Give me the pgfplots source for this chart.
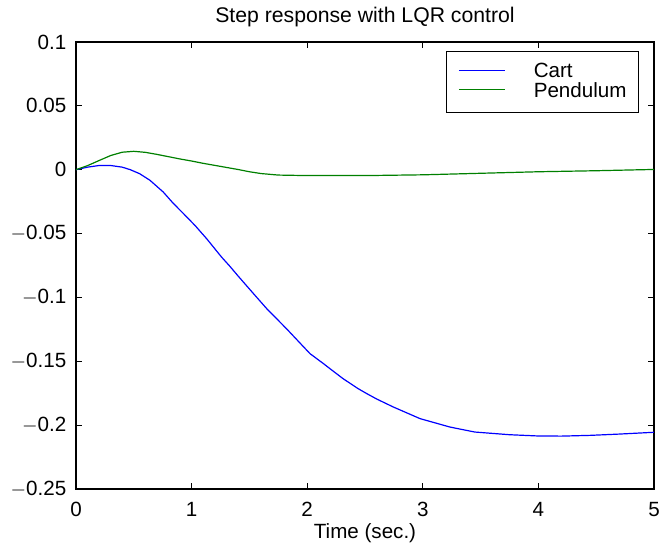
\documentclass[border=0pt]{standalone}
\usepackage{fontspec}
\setmainfont{Liberation Sans}
\usepackage{pgfplots}
\pgfplotsset{compat=1.18}
\definecolor{mgreen}{RGB}{0,128,0}
\newcommand{\legline}[1]{\textcolor{#1}{\rule[3.4pt]{23pt}{0.6pt}}\hspace{14.5pt}}
\begin{document}
\begin{tikzpicture}
\path[use as bounding box] (-38pt,-27.65pt) rectangle (291.5pt,244.5pt);
\begin{axis}[
  at={(0,0)}, anchor=south west,
  scale only axis, width=289pt, height=223.5pt,
  xmin=0, xmax=5, ymin=-0.25, ymax=0.1,
  xtick={0,1,2,3,4,5},
  ytick={-0.25,-0.2,-0.15,-0.1,-0.05,0,0.05,0.1},
  yticklabels={$-$0.25,$-$0.2,$-$0.15,$-$0.1,$-$0.05,0,0.05,0.1},
  scaled y ticks=false,
  tick align=inside,
  major tick length=2.8pt,
  axis line style={line width=0.6pt},
  tick style={black, line width=0.6pt},
  /pgf/number format/assume math mode=true,
  tick label style={font=\fontsize{10.3}{12}\selectfont},
  xticklabel style={yshift=-2.9pt},
  yticklabel style={xshift=-1.3pt},
  title={Step response with LQR control},
  title style={at={(axis description cs:0.5,1)}, anchor=base, yshift=3.6pt, font=\fontsize{10.6}{12}\selectfont, inner sep=0pt},
  xlabel={Time (sec.)},
  xlabel style={at={(axis description cs:0.5,0)}, anchor=base, yshift=-25pt, font=\fontsize{10.3}{12}\selectfont, inner sep=0pt},
  legend cell align=left,
  legend image code/.code={},
  legend style={at={(0.974,0.980)}, anchor=north east,
    inner xsep=4pt, inner ysep=4pt, column sep=0pt, row sep=-3.2pt,
    font=\fontsize{10.3}{12}\selectfont},
]
\addplot[color=blue, line width=0.6pt] coordinates {
(0,0) (0.1,0.002) (0.2,0.0033) (0.3,0.0033) (0.4,0.002) (0.47,0.0)
(0.55,-0.0031) (0.64,-0.0083) (0.755,-0.0175) (0.84,-0.0262) (0.93,-0.0344)
(1.03,-0.0437) (1.13,-0.054) (1.26,-0.0685) (1.33,-0.0755) (1.4,-0.083)
(1.535,-0.097) (1.65,-0.1088) (1.82,-0.1244) (2.024,-0.144) (2.14,-0.1518)
(2.2,-0.156) (2.31,-0.1636) (2.44,-0.1714) (2.515,-0.1753) (2.6,-0.1795)
(2.745,-0.1858) (2.976,-0.1949) (3.235,-0.2015) (3.45,-0.2054) (3.75,-0.2075)
(4.0,-0.2085) (4.2,-0.2086) (4.45,-0.2080) (4.7,-0.2070) (5.0,-0.2056)
};
\addlegendentry{\legline{blue}Cart}
\addplot[color=mgreen, line width=0.6pt] coordinates {
(0,0) (0.1,0.0032) (0.2,0.0072) (0.3,0.0111) (0.4,0.0137) (0.5,0.0144)
(0.6,0.0136) (0.7,0.0120) (0.8,0.0102) (0.9,0.0084) (1.0,0.0068)
(1.1,0.0050) (1.2,0.0034) (1.3,0.0018) (1.4,0.0002) (1.5,-0.0016)
(1.6,-0.0030) (1.75,-0.0042) (2.0,-0.0046) (2.5,-0.0046) (3.0,-0.0040)
(3.5,-0.0028) (4.0,-0.0016) (4.5,-0.0008) (5.0,0.0002)
};
\addlegendentry{\legline{mgreen}Pendulum}
\end{axis}
\end{tikzpicture}
\end{document}
